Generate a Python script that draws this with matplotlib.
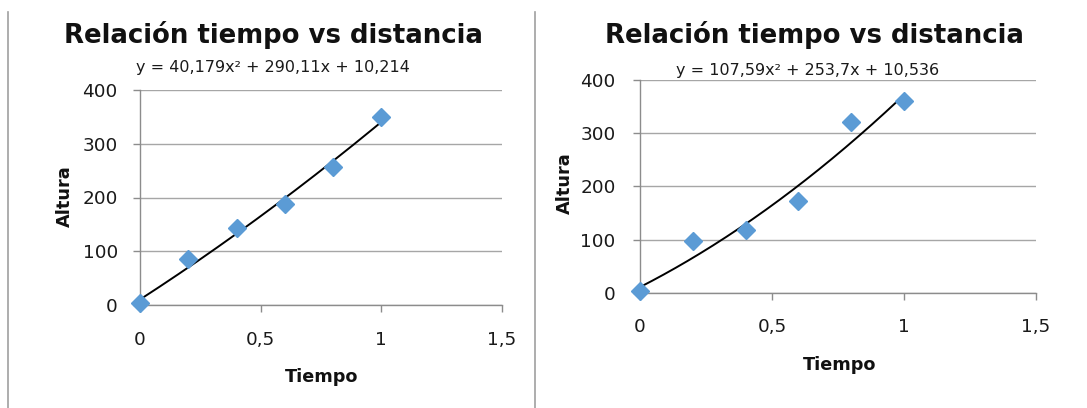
import matplotlib
matplotlib.use("Agg")
import matplotlib.pyplot as plt
import numpy as np
from matplotlib.lines import Line2D

plt.rcParams['font.family'] = ['DejaVu Sans']

# Measurements: time (s) and height for two trials
tiempo = [0, 0.2, 0.4, 0.6, 0.8, 1.0]
altura_1 = [3, 86, 144, 188, 257, 350]
altura_2 = [3, 98, 117, 172, 321, 360]

# Quadratic trendline coefficients (a, b, c) for y = a x^2 + b x + c
coef_1 = [40.179, 290.11, 10.214]
coef_2 = [107.59, 253.7, 10.536]
eq_1 = "y = 40,179x² + 290,11x + 10,214"
eq_2 = "y = 107,59x² + 253,7x + 10,536"

titulo = "Relación tiempo vs distancia"
x_ticks = [0, 0.5, 1, 1.5]
x_ticklabels = ["0", "0,5", "1", "1,5"]
y_ticks = [0, 100, 200, 300, 400]

W, H = 1087, 408
fig = plt.figure(figsize=(W / 100, H / 100), dpi=100)

BLUE = "#5B9BD5"
GRID = "#a6a6a6"
AXIS = "#8c8c8c"


def px(x, y):
    return x / W, 1 - y / H


def make_panel(rect, y_vals, coef, eq, title_xy, eq_xy, ylab_xy, xlab_xy, xpad, ypad):
    ax = fig.add_axes(rect)
    ax.set_xlim(0, 1.5)
    ax.set_ylim(0, 400)
    ax.set_xticks(x_ticks)
    ax.set_xticklabels(x_ticklabels)
    ax.set_yticks(y_ticks)
    for s in ("top", "right"):
        ax.spines[s].set_visible(False)
    for s in ("left", "bottom"):
        ax.spines[s].set_color(AXIS)
        ax.spines[s].set_linewidth(1.0)
    ax.yaxis.grid(True, color=GRID, linewidth=1.0)
    ax.set_axisbelow(True)
    ax.tick_params(axis="x", direction="out", length=5, color=AXIS, width=1.0,
                   labelsize=13.3, pad=xpad, labelcolor="#1a1a1a")
    ax.tick_params(axis="y", direction="out", length=5, color=AXIS, width=1.0,
                   labelsize=13.3, pad=ypad, labelcolor="#1a1a1a")
    xs = np.linspace(0, 1, 200)
    a, b, c = coef
    ax.plot(xs, a * xs ** 2 + b * xs + c, color="black", linewidth=1.4, zorder=3)
    ax.plot(tiempo, y_vals, linestyle="none", marker="D", markersize=9.5,
            color=BLUE, markeredgecolor=BLUE, zorder=4, clip_on=False)
    fig.text(*px(*title_xy), titulo, ha="center", va="baseline",
             fontsize=18.7, fontweight="bold", color="#111111")
    fig.text(*px(*eq_xy), eq, ha="center", va="baseline", fontsize=11.5, color="#1a1a1a")
    fig.text(*px(*ylab_xy), "Altura", ha="center", va="center", rotation=90,
             fontsize=12.8, fontweight="bold", color="#111111")
    fig.text(*px(*xlab_xy), "Tiempo", ha="center", va="center",
             fontsize=12.7, fontweight="bold", color="#111111")
    return ax


# Panel 1
l1, r1, t1, b1 = 140, 502, 90, 305
make_panel([l1 / W, 1 - b1 / H, (r1 - l1) / W, (b1 - t1) / H],
           altura_1, coef_1, eq_1,
           (273, 43), (273, 72), (65, 196), (322, 377), 13.5, 11)

# Panel 2
l2, r2, t2, b2 = 640, 1036, 80, 292.7
make_panel([l2 / W, 1 - b2 / H, (r2 - l2) / W, (b2 - t2) / H],
           altura_2, coef_2, eq_2,
           (814, 43), (808, 75), (565, 183), (840, 365), 13.5, 12.5)

# Frame separators
for xline in (8, 535):
    fig.add_artist(Line2D([xline / W, xline / W], [0, 1 - 12 / H],
                          transform=fig.transFigure, color="#a0a0a0", linewidth=1.2))

fig.savefig("out.png", dpi=100, facecolor="white")
